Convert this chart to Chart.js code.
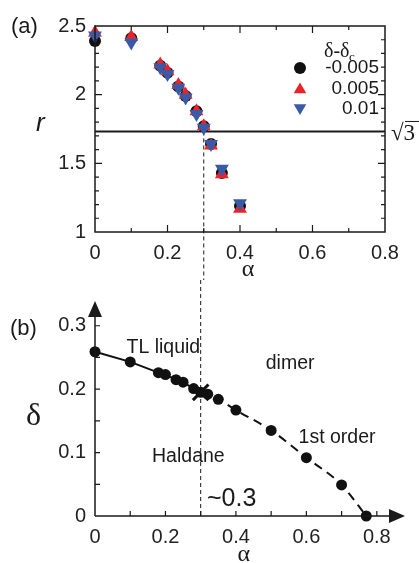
<!DOCTYPE html>
<html lang="en">
<head>
<meta charset="UTF-8">
<title>r(alpha) and phase diagram</title>
<script src="https://cdn.jsdelivr.net/npm/chart.js"></script>
<style>
  body { margin: 0; background: #fff; }
  #wrap { position: relative; width: 419px; height: 563px; }
  canvas { position: absolute; left: 0; }
  #topChart { top: 0; }
  #bottomChart { top: 280px; }
</style>
</head>
<body>
<div id="wrap">
  <canvas id="topChart" width="419" height="280"></canvas>
  <canvas id="bottomChart" width="419" height="283"></canvas>
</div>
<script>
const FONT = '"Liberation Sans", Arial, sans-serif';
const GREEK = '"Liberation Serif", "Times New Roman", serif';
const INK = '#1a1a1a';

// panel (a): r vs alpha for three values of delta - delta_c
const alphaA = [0, 0.1, 0.18, 0.2, 0.23, 0.25, 0.28, 0.3, 0.32, 0.35, 0.4];
const rMinus005 = [2.39, 2.41, 2.21, 2.16, 2.06, 1.99, 1.88, 1.77, 1.64, 1.43, 1.19];
const rPlus005 = [2.45, 2.42, 2.22, 2.17, 2.07, 2.00, 1.88, 1.77, 1.63, 1.42, 1.17];
const rPlus01 = [2.43, 2.38, 2.20, 2.15, 2.05, 1.98, 1.86, 1.76, 1.64, 1.46, 1.21];
const seriesLabels = ['-0.005', '0.005', '0.01'];
const rRef = Math.sqrt(3);
const alphaC = 0.3;
const alphaTicks = [0, 0.2, 0.4, 0.6, 0.8];
const rTicks = [1, 1.5, 2, 2.5];

// panel (b): phase boundary
const alphaSolid = [0, 0.1, 0.18, 0.2, 0.23, 0.25, 0.28, 0.3];
const deltaSolid = [0.259, 0.243, 0.226, 0.223, 0.215, 0.211, 0.201, 0.195];
const alphaDashed = [0.3, 0.32, 0.35, 0.4, 0.5, 0.6, 0.7, 0.77];
const deltaDashed = [0.195, 0.192, 0.184, 0.167, 0.135, 0.092, 0.049, 0];
const deltaC = 0.195;
const deltaTicks = [0, 0.1, 0.2, 0.3];

const pts = (xs, ys) => xs.map((x, i) => ({ x: x, y: ys[i] }));
const fixTicks = vals => s => { s.ticks = vals.map(v => ({ value: v })); };
const steps = (from, to, step) => {
  const out = [];
  for (let v = from; v <= to + 1e-9; v += step) out.push(+v.toFixed(3));
  return out;
};

Chart.defaults.font.family = FONT;
Chart.defaults.color = '#222';

function marks(ctx, scale, vals, len, side) {
  const a = scale.chart.chartArea;
  ctx.beginPath();
  vals.forEach(v => {
    const p = scale.getPixelForValue(v);
    if (side === 'bottom') { ctx.moveTo(p, a.bottom); ctx.lineTo(p, a.bottom - len); }
    if (side === 'top') { ctx.moveTo(p, a.top); ctx.lineTo(p, a.top + len); }
    if (side === 'left') { ctx.moveTo(a.left, p); ctx.lineTo(a.left + len, p); }
    if (side === 'right') { ctx.moveTo(a.right, p); ctx.lineTo(a.right - len, p); }
  });
  ctx.stroke();
}

function marker(ctx, style, x, y, r, color) {
  ctx.fillStyle = color;
  ctx.beginPath();
  if (style === 'circle') {
    ctx.arc(x, y, r, 0, Math.PI * 2);
  } else {
    const s = style === 'up' ? 1 : -1;
    ctx.moveTo(x, y - s * r);
    ctx.lineTo(x + r * 1.05, y + s * r * 0.8);
    ctx.lineTo(x - r * 1.05, y + s * r * 0.8);
    ctx.closePath();
  }
  ctx.fill();
}

const panelA = {
  id: 'panelA',
  beforeDatasetsDraw(chart) {
    const { ctx, chartArea: a, scales: { x, y } } = chart;
    ctx.save();
    // sqrt(3) reference line
    ctx.strokeStyle = INK;
    ctx.lineWidth = 2;
    ctx.beginPath();
    ctx.moveTo(a.left, y.getPixelForValue(rRef));
    ctx.lineTo(a.right, y.getPixelForValue(rRef));
    ctx.stroke();
    // alpha_c guide
    ctx.lineWidth = 1;
    ctx.setLineDash([4, 3]);
    ctx.beginPath();
    ctx.moveTo(x.getPixelForValue(alphaC), y.getPixelForValue(rRef));
    ctx.lineTo(x.getPixelForValue(alphaC), chart.height);
    ctx.stroke();
    ctx.restore();
  },
  afterDraw(chart) {
    const { ctx, chartArea: a, scales: { x, y } } = chart;
    ctx.save();
    ctx.strokeStyle = INK;
    ctx.lineWidth = 1.5;
    ctx.strokeRect(a.left, a.top, a.right - a.left, a.bottom - a.top);
    ctx.lineWidth = 1.2;
    const xMin = [0.1, 0.3, 0.5, 0.7], xMaj = [0.2, 0.4, 0.6];
    const yAll = steps(1.1, 2.4, 0.1);
    const yMaj = [1.5, 2];
    const yMin = yAll.filter(v => !yMaj.includes(v));
    ['bottom', 'top'].forEach(s => { marks(ctx, x, xMin, 4, s); marks(ctx, x, xMaj, 7, s); });
    ['left', 'right'].forEach(s => { marks(ctx, y, yMin, 4, s); marks(ctx, y, yMaj, 7, s); });

    // labels
    ctx.fillStyle = INK;
    ctx.textBaseline = 'middle';
    ctx.textAlign = 'left';
    ctx.font = '22px ' + FONT;
    ctx.fillText('(a)', 11, a.top + 1);
    ctx.font = 'italic 26px ' + FONT;
    ctx.fillText('r', 36, y.getPixelForValue(1.76) - 4);
    ctx.textAlign = 'center';
    ctx.font = '24px ' + GREEK;
    ctx.fillText('\u03b1', (a.left + a.right) / 2 + 8, a.bottom + 38);
    // sqrt(3)
    const ry = y.getPixelForValue(rRef);
    ctx.textAlign = 'left';
    ctx.font = '23px ' + GREEK;
    ctx.fillText('\u221a3', a.right + 6, ry + 2);
    ctx.lineWidth = 1;
    ctx.beginPath();
    ctx.moveTo(a.right + 20, ry - 10);
    ctx.lineTo(a.right + 34, ry - 10);
    ctx.stroke();

    // legend
    const lx = a.right - 85, ly = a.top + 26;
    ctx.font = '20px ' + GREEK;
    ctx.textAlign = 'left';
    ctx.fillText('\u03b4-\u03b4', lx + 24, ly);
    ctx.font = '13px ' + GREEK;
    ctx.fillText('c', lx + 49, ly + 6);
    const styles = ['circle', 'up', 'down'];
    const colors = chart.data.datasets.map(d => d.backgroundColor);
    ctx.font = '19px ' + FONT;
    seriesLabels.forEach((lab, i) => {
      const yy = ly + 16 + i * 20.5;
      marker(ctx, styles[i], lx, yy, 6, colors[i]);
      ctx.fillStyle = INK;
      ctx.textAlign = 'right';
      ctx.fillText(lab, lx + 79, yy);
    });
    ctx.restore();
  }
};

new Chart(document.getElementById('topChart'), {
  type: 'scatter',
  data: {
    datasets: [
      { label: seriesLabels[0], data: pts(alphaA, rMinus005), pointStyle: 'circle', pointRadius: 6,
        backgroundColor: '#111', borderColor: '#111', borderWidth: 0, order: 3, clip: false },
      { label: seriesLabels[1], data: pts(alphaA, rPlus005), pointStyle: 'triangle', pointRadius: 8,
        backgroundColor: '#e8232a', borderColor: '#e8232a', borderWidth: 0, order: 2, clip: false },
      { label: seriesLabels[2], data: pts(alphaA, rPlus01), pointStyle: 'triangle', rotation: 180, pointRadius: 8,
        backgroundColor: '#3a5aa8', borderColor: '#3a5aa8', borderWidth: 0, order: 1, clip: false }
    ]
  },
  options: {
    responsive: false,
    animation: false,
    layout: { padding: { top: 26, right: 34, left: 0, bottom: 0 } },
    plugins: { legend: { display: false }, tooltip: { enabled: false } },
    scales: {
      x: {
        type: 'linear', min: 0, max: 0.8,
        afterBuildTicks: fixTicks(alphaTicks),
        afterFit: s => { s.height = 48; },
        grid: { display: false, drawTicks: false },
        border: { display: false },
        ticks: { font: { size: 20 }, padding: 9, maxRotation: 0, callback: v => String(v) }
      },
      y: {
        min: 1, max: 2.5,
        afterBuildTicks: fixTicks(rTicks),
        afterFit: s => { s.width = 95; },
        grid: { display: false, drawTicks: false },
        border: { display: false },
        ticks: { font: { size: 20 }, padding: 9, callback: v => String(v) }
      }
    }
  },
  plugins: [panelA]
});

const panelB = {
  id: 'panelB',
  beforeDatasetsDraw(chart) {
    const { ctx, scales: { x, y } } = chart;
    ctx.save();
    ctx.strokeStyle = INK;
    ctx.lineWidth = 1;
    ctx.setLineDash([4, 3]);
    ctx.beginPath();
    ctx.moveTo(x.getPixelForValue(alphaC), 0);
    ctx.lineTo(x.getPixelForValue(alphaC), y.getPixelForValue(0));
    ctx.stroke();
    ctx.restore();
  },
  afterDraw(chart) {
    const { ctx, chartArea: a, scales: { x, y } } = chart;
    const x0 = x.getPixelForValue(0), y0 = y.getPixelForValue(0);
    ctx.save();
    ctx.strokeStyle = INK;
    ctx.fillStyle = INK;
    ctx.lineWidth = 1.5;
    // axes with arrow heads
    ctx.beginPath();
    ctx.moveTo(x0, y0); ctx.lineTo(x0, a.top + 12);
    ctx.moveTo(x0, y0); ctx.lineTo(a.right - 12, y0);
    ctx.stroke();
    ctx.beginPath();
    ctx.moveTo(x0, a.top); ctx.lineTo(x0 - 7, a.top + 16); ctx.lineTo(x0 + 7, a.top + 16); ctx.closePath();
    ctx.moveTo(a.right, y0); ctx.lineTo(a.right - 16, y0 - 7); ctx.lineTo(a.right - 16, y0 + 7); ctx.closePath();
    ctx.fill();
    ctx.lineWidth = 1.2;
    marks(ctx, y, steps(0.05, 0.3, 0.05), 5, 'left');
    marks(ctx, x, steps(0.1, 0.8, 0.1), 5, 'bottom');

    ctx.textBaseline = 'middle';
    ctx.textAlign = 'left';
    ctx.font = '22px ' + FONT;
    ctx.fillText('(b)', 10, y.getPixelForValue(0.3) + 3);
    ctx.font = '32px ' + GREEK;
    ctx.fillText('\u03b4', 26, y.getPixelForValue(0.157));
    ctx.textAlign = 'center';
    ctx.font = '24px ' + GREEK;
    ctx.fillText('\u03b1', x.getPixelForValue(0.4) + 8, y0 + 39);

    ctx.font = '19.5px ' + FONT;
    ctx.fillText('TL liquid', x.getPixelForValue(0.194), y.getPixelForValue(0.265));
    ctx.fillText('dimer', x.getPixelForValue(0.554), y.getPixelForValue(0.240));
    ctx.fillText('1st order', x.getPixelForValue(0.687), y.getPixelForValue(0.124));
    ctx.fillText('Haldane', x.getPixelForValue(0.265), y.getPixelForValue(0.094));
    ctx.textAlign = 'left';
    ctx.font = '25px ' + FONT;
    ctx.fillText('~0.3', x.getPixelForValue(0.318), y.getPixelForValue(0.026));
    ctx.restore();
  }
};

new Chart(document.getElementById('bottomChart'), {
  type: 'scatter',
  data: {
    datasets: [
      { data: [{ x: alphaC, y: deltaC }], pointStyle: 'crossRot', pointRadius: 11, borderWidth: 3,
        borderColor: '#111', backgroundColor: '#111', clip: false, order: 0 },
      { data: pts(alphaSolid, deltaSolid), showLine: true, borderColor: '#111', borderWidth: 2,
        pointRadius: 5.5, pointBackgroundColor: '#111', pointBorderWidth: 0, clip: false, order: 1 },
      { data: pts(alphaDashed, deltaDashed), showLine: true, borderColor: '#111', borderWidth: 2,
        borderDash: [9, 6], cubicInterpolationMode: 'monotone',
        pointRadius: alphaDashed.map((v, i) => (i === 0 ? 0 : 5.5)),
        pointBackgroundColor: '#111', pointBorderWidth: 0, clip: false, order: 2 }
    ]
  },
  options: {
    responsive: false,
    animation: false,
    layout: { padding: { top: 2, right: 5, left: 0, bottom: 0 } },
    plugins: { legend: { display: false }, tooltip: { enabled: false } },
    scales: {
      x: {
        type: 'linear', min: 0, max: 0.88,
        afterBuildTicks: fixTicks(alphaTicks),
        afterFit: s => { s.height = 47; },
        grid: { display: false, drawTicks: false },
        border: { display: false },
        ticks: { font: { size: 20 }, padding: 9, maxRotation: 0, callback: v => String(v) }
      },
      y: {
        min: 0, max: 0.339,
        afterBuildTicks: fixTicks(deltaTicks),
        afterFit: s => { s.width = 95; },
        grid: { display: false, drawTicks: false },
        border: { display: false },
        ticks: { font: { size: 20 }, padding: 9, callback: v => String(v) }
      }
    }
  },
  plugins: [panelB]
});
</script>
</body>
</html>
